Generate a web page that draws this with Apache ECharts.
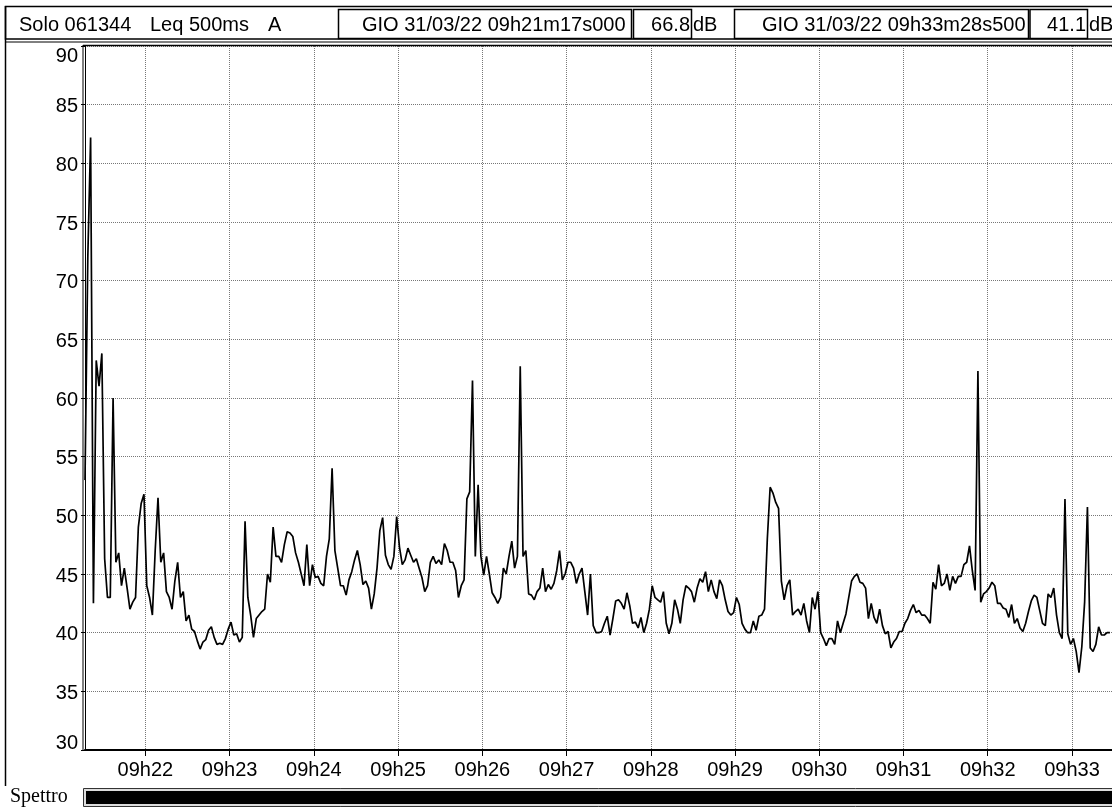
<!DOCTYPE html>
<html>
<head>
<meta charset="utf-8">
<title>Solo 061344 Leq 500ms A</title>
<script src="https://cdn.jsdelivr.net/npm/echarts@6/dist/echarts.min.js"></script>
<style>
  html, body { margin: 0; padding: 0; background: #fff; }
  #container { width: 1112px; height: 807px; }
</style>
</head>
<body>
<div id="container"></div>
<script>
// seconds since 09h00
const startSec = 21 * 60 + 17;      // 09h21m17s000
const endSec = 33 * 60 + 28.5;      // 09h33m28s500
const stepSec = 2;

// Leq (dB A), one value every 2 s
const leq = [
  53, 72, 82.2, 42.5, 63.2, 61, 63.8, 46.3, 43, 43,
  60, 46, 46.8, 44, 45.5, 43.8, 42, 42.6, 43, 49,
  51, 51.8, 44, 43, 41.5, 47, 51.5, 46, 46.8, 43.5,
  43, 42, 44.4, 46, 43, 43.5, 41, 41.5, 40.3, 40.1,
  39.3, 38.6, 39.2, 39.4, 40.2, 40.5, 39.6, 39, 39.1, 39,
  39.5, 40.3, 40.9, 39.8, 39.9, 39.2, 39.6, 49.5, 43, 41.5,
  39.6, 41.2, 41.5, 41.8, 42, 45, 44.3, 49, 46.5, 46.5,
  46, 47.5, 48.6, 48.5, 48.2, 46.8, 46, 45, 44, 47.5,
  44, 45.8, 44.7, 44.8, 44.2, 44, 46.5, 48, 54, 47,
  45.5, 44, 44, 43.2, 44.5, 45.2, 46.2, 47, 45.8, 44.1,
  44.4, 43.8, 42, 43.3, 45.5, 48.7, 49.8, 46.6, 45.8, 45.4,
  46.5, 49.9, 47.3, 45.8, 46.2, 47.2, 46.6, 46, 46.3, 45.5,
  44.7, 43.5, 44, 46, 46.5, 45.9, 46.2, 45.8, 47.6, 47,
  46, 46, 45.3, 43, 44, 44.5, 51.4, 52, 61.5, 46.5,
  52.6, 46.5, 44.9, 46.5, 45, 43.4, 43, 42.5, 43, 45.5,
  45, 46.5, 47.8, 45.5, 46.5, 62.7, 46.5, 47, 43.3, 43.2,
  42.8, 43.5, 43.8, 45.5, 43.5, 44.1, 43.7, 44.2, 45.3, 47,
  44.5, 45, 46, 46, 45.5, 44.2, 45, 45.5, 43.5, 41.5,
  45, 40.6, 40, 40, 40.1, 40.8, 41.4, 39.8, 41.2, 42.7,
  42.8, 42.5, 42, 43.4, 42.3, 40.8, 40.9, 40.4, 41.3, 40,
  40.8, 42, 44, 43, 42.8, 42.6, 43.5, 40.8, 39.9, 40.8,
  42.8, 42, 40.8, 42.8, 44, 43.8, 43.5, 42.6, 43.8, 44.6,
  44.3, 45.2, 43.5, 44.5, 43.5, 42.9, 44.5, 44, 42.8, 41.8,
  41.5, 41.7, 43, 42.4, 40.8, 40.3, 40, 40, 41, 40.2,
  41.4, 41.5, 42, 48, 52.4, 51.9, 51.1, 50.6, 44.4, 42.8,
  44, 44.5, 41.5, 41.8, 42, 41.5, 42.5, 41, 40, 43,
  42, 43.5, 40, 39.5, 38.9, 39.5, 39.5, 39, 41, 40,
  40.8, 41.6, 43, 44.4, 44.8, 45, 44.3, 44.2, 43.8, 41.2,
  42.5, 41.3, 40.8, 42, 40.6, 39.9, 40.1, 38.7, 39.2, 39.5,
  40.1, 40.1, 40.8, 41.2, 41.9, 42.4, 41.7, 41.9, 41.5, 41.5,
  41.2, 40.8, 44.3, 43.7, 45.8, 44, 44.2, 45, 43.6, 44.8,
  44.2, 44.8, 44.8, 45.8, 46, 47.4, 45.3, 43.6, 62.3, 42.6,
  43.3, 43.5, 43.8, 44.3, 44, 42.5, 42.5, 42.1, 42, 41.3,
  42.4, 40.8, 41.2, 40.4, 40.1, 40.8, 41.8, 42.7, 43.2, 43,
  41.9, 40.8, 40.6, 43.3, 43, 43.8, 41.5, 40, 39.5, 51.4,
  39.9, 39, 39.5, 38.4, 36.6, 38.8, 42.6, 50.7, 38.7, 38.4,
  39, 40.5, 39.8, 39.8, 40, 40
];

const tickMinutes = [22, 23, 24, 25, 26, 27, 28, 29, 30, 31, 32, 33];
const tickSecs = tickMinutes.map(m => m * 60);

const headerLeft = ['Solo 061344', 'Leq 500ms', 'A'];
const cursorA = { time: 'GIO 31/03/22 09h21m17s000', level: '66.8' };
const cursorB = { time: 'GIO 31/03/22 09h33m28s500', level: '41.1' };

const FONT = '"Liberation Sans", Arial, sans-serif';

let dom = document.getElementById('container');
let myChart = echarts.init(dom, null, { renderer: 'canvas' });

let points = leq.map((v, i) => [startSec + i * stepSec, v]);

function txt(x, y, s, align, size) {
  return {
    type: 'text', x: x, y: y, z: 10,
    style: { text: s, fill: '#000', font: (size || 20) + 'px ' + FONT, align: align || 'left', verticalAlign: 'middle' }
  };
}
function box(x1, x2) {
  return {
    type: 'rect', z: 9,
    shape: { x: x1, y: 9.5, width: x2 - x1, height: 29 },
    style: { fill: 'none', stroke: '#000', lineWidth: 1.5 }
  };
}
function hline(x1, x2, y, w) {
  return { type: 'line', z: 9, shape: { x1: x1, y1: y, x2: x2, y2: y }, style: { stroke: '#000', lineWidth: w || 1 } };
}

let option = {
  animation: false,
  backgroundColor: '#fff',
  grid: { left: 85, right: -7.5, top: 46, bottom: 57, containLabel: false },
  xAxis: {
    type: 'value',
    min: startSec,
    max: endSec,
    axisLine: { show: true, onZero: false, lineStyle: { color: '#000', width: 2 } },
    axisTick: { show: true, length: 6, customValues: tickSecs, lineStyle: { color: '#000', width: 1 } },
    axisLabel: {
      customValues: tickSecs,
      margin: 10,
      color: '#000',
      fontSize: 20,
      fontFamily: FONT,
      formatter: v => '09h' + String(Math.round(v / 60)).padStart(2, '0')
    },
    splitLine: { show: true, lineStyle: { color: '#777', width: 1, type: [1, 1] } }
  },
  yAxis: {
    type: 'value',
    min: 30,
    max: 90,
    interval: 5,
    axisLine: { show: true, lineStyle: { color: '#000', width: 1 } },
    axisTick: { show: true, length: 4, lineStyle: { color: '#000' } },
    axisLabel: {
      margin: 7,
      color: '#000',
      fontSize: 20,
      fontFamily: FONT,
      formatter: v => v === 90 ? '{t|90}' : v === 30 ? '{b|30}' : '{n|' + v + '}',
      rich: {
        n: { fontSize: 20, fontFamily: FONT, color: '#000', padding: [4, 0, 0, 0] },
        t: { fontSize: 20, fontFamily: FONT, color: '#000', padding: [21, 0, 0, 0] },
        b: { fontSize: 20, fontFamily: FONT, color: '#000', padding: [0, 0, 14, 0] }
      }
    },
    splitLine: { show: true, lineStyle: { color: '#777', width: 1, type: [1, 1] } }
  },
  series: [
    {
      name: 'Leq',
      type: 'line',
      data: points,
      showSymbol: false,
      symbol: 'none',
      lineStyle: { color: '#000', width: 1.7 },
      z: 3
    }
  ],
  graphic: [
    // header
    { type: 'rect', z: 8, shape: { x: 5.5, y: 6.5, width: 1120, height: 32.5 }, style: { fill: '#fff', stroke: '#000', lineWidth: 1.5 } },
    hline(5, 1112, 42, 1),
    hline(83, 1112, 45.5, 1.5),
    box(338.5, 631.5), box(633.5, 691.5), box(734.5, 1028.5), box(1030, 1087.5),
    txt(19, 25, headerLeft[0]),
    txt(150, 25, headerLeft[1]),
    txt(268, 25, headerLeft[2]),
    txt(362, 25, cursorA.time),
    txt(690, 25, cursorA.level, 'right'),
    txt(693, 25, 'dB'),
    txt(762, 25, cursorB.time),
    txt(1086, 25, cursorB.level, 'right'),
    txt(1089, 25, 'dB'),
    // left frame and double y axis line
    { type: 'line', z: 9, shape: { x1: 5.5, y1: 6, x2: 5.5, y2: 786 }, style: { stroke: '#000', lineWidth: 1.5 } },
    { type: 'line', z: 9, shape: { x1: 83, y1: 45, x2: 83, y2: 751 }, style: { stroke: '#000', lineWidth: 1 } },
    // spectrum bar
    {
      type: 'text', x: 10, y: 797, z: 10,
      style: { text: 'Spettro', fill: '#000', font: '20px "Liberation Serif", "Times New Roman", serif', verticalAlign: 'middle' }
    },
    { type: 'rect', z: 9, shape: { x: 83.5, y: 788.5, width: 1040, height: 18 }, style: { fill: '#ddd', stroke: '#333', lineWidth: 1 } },
    { type: 'rect', z: 10, shape: { x: 86, y: 791, width: 1035, height: 13 }, style: { fill: '#000' } }
  ]
};

if (option && typeof option === 'object') {
  myChart.setOption(option);
}

window.addEventListener('resize', myChart.resize);
</script>
</body>
</html>
